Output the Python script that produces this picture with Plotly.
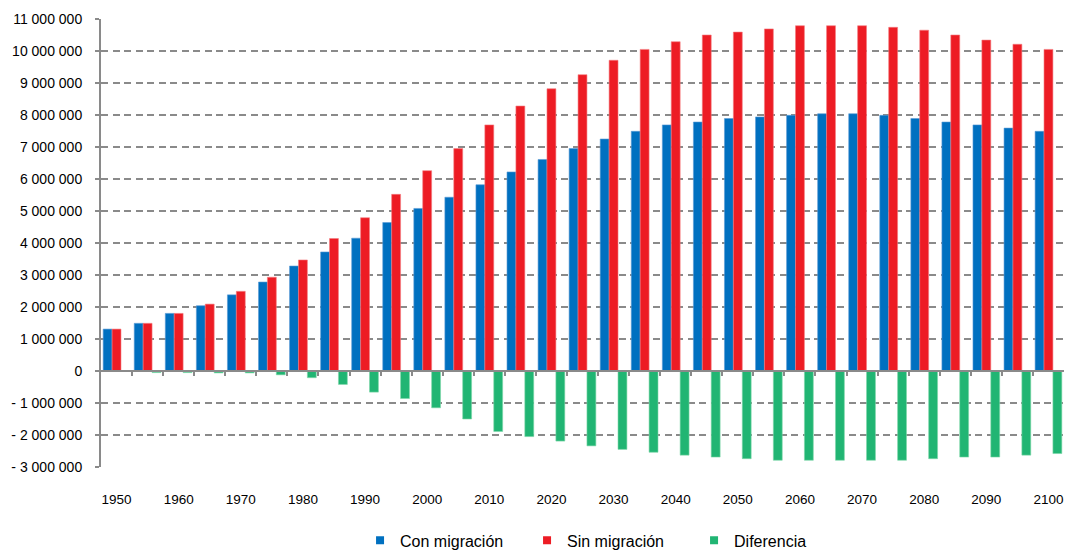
import plotly.graph_objects as go

# Years (every five years) and population series
years = [1950, 1955, 1960, 1965, 1970, 1975, 1980, 1985, 1990, 1995,
         2000, 2005, 2010, 2015, 2020, 2025, 2030, 2035, 2040, 2045,
         2050, 2055, 2060, 2065, 2070, 2075, 2080, 2085, 2090, 2095, 2100]

con_migracion = [1310000, 1490000, 1800000, 2040000, 2380000, 2780000, 3280000, 3720000,
                 4150000, 4640000, 5080000, 5430000, 5820000, 6220000, 6610000, 6950000,
                 7250000, 7490000, 7690000, 7780000, 7890000, 7940000, 7990000, 8040000,
                 8040000, 7990000, 7890000, 7780000, 7690000, 7590000, 7490000]

sin_migracion = [1310000, 1490000, 1800000, 2090000, 2490000, 2930000, 3470000, 4140000,
                 4790000, 5520000, 6260000, 6950000, 7690000, 8280000, 8820000, 9260000,
                 9710000, 10050000, 10290000, 10500000, 10590000, 10690000, 10790000, 10790000,
                 10790000, 10740000, 10650000, 10500000, 10340000, 10210000, 10050000]

diferencia = [-10000, -50000, -50000, -60000, -60000, -120000, -210000, -420000,
              -660000, -860000, -1150000, -1500000, -1890000, -2050000, -2190000, -2340000,
              -2450000, -2540000, -2630000, -2690000, -2740000, -2790000, -2790000, -2790000,
              -2790000, -2790000, -2740000, -2690000, -2690000, -2630000, -2580000]

series_names = ["Con migración", "Sin migración", "Diferencia"]

# y-axis ticks with space as thousands separator
y_ticks = list(range(-3000000, 11000001, 1000000))


def fmt(v):
    s = f"{abs(v):,}".replace(",", " ")
    return ("- " + s) if v < 0 else s


y_ticktext = [fmt(v) for v in y_ticks]

# category boundaries for the small tick marks along the zero line
boundaries = [y + 2.5 for y in years[:-1]]

fill_colors = ["#0070C0", "#ED1C24", "#21B573"]
edge_colors = ["#5B9BD5", "#F47C80", "#7FD6A9"]

fig = go.Figure()
for name, vals, fc, ec in zip(series_names, [con_migracion, sin_migracion, diferencia],
                              fill_colors, edge_colors):
    fig.add_trace(go.Bar(
        x=years, y=vals, name=name, legendgroup=name, showlegend=False,
        marker=dict(color=fc, line=dict(color=ec, width=0.6)),
    ))

# small square legend keys for each series
for name, fc in zip(series_names, fill_colors):
    fig.add_trace(go.Scatter(
        x=[None], y=[None], mode="markers", name=name, legendgroup=name,
        marker=dict(symbol="square", size=8, color=fc), hoverinfo="skip",
    ))

# empty trace so the overlay axis carrying the zero-line ticks is drawn
fig.add_trace(go.Scatter(x=[], y=[], xaxis="x2", yaxis="y", showlegend=False,
                         hoverinfo="skip"))

y_min, y_max = -3000000, 11000000
zero_frac = (0 - y_min) / (y_max - y_min)

grid_color = "#8A8A8A"
font_family = "Liberation Sans, Arial, sans-serif"

fig.update_layout(
    width=1065, height=550,
    margin=dict(l=101, r=1, t=19, b=83, autoexpand=False),
    paper_bgcolor="white", plot_bgcolor="white",
    font=dict(family=font_family, color="#000000"),
    barmode="group", bargap=0.14, bargroupgap=0,
    showlegend=True,
    legend=dict(
        orientation="h", x=0.269, xanchor="left", y=-0.126, yanchor="top",
        font=dict(size=16, family=font_family),
        entrywidth=122, entrywidthmode="pixels",
        itemwidth=30, tracegroupgap=0,
    ),
    xaxis=dict(
        range=[1947.5, 2102.5],
        tickmode="array", tickvals=years[::2], ticktext=[str(y) for y in years[::2]],
        ticks="", showgrid=False, showline=False, zeroline=False,
        tickfont=dict(size=13.5), ticklabelstandoff=22,
    ),
    xaxis2=dict(
        overlaying="x", matches="x", anchor="free", position=zero_frac,
        side="bottom",
        tickmode="array", tickvals=boundaries, showticklabels=False,
        ticks="outside", ticklen=4, tickwidth=1.5, tickcolor=grid_color,
        showgrid=False, showline=True, linecolor=grid_color, linewidth=2,
        zeroline=False,
    ),
    yaxis=dict(
        range=[y_min, y_max],
        tickmode="array", tickvals=y_ticks, ticktext=y_ticktext,
        ticks="outside", ticklen=4, tickwidth=1.5, tickcolor=grid_color,
        showline=True, linecolor=grid_color, linewidth=2,
        showgrid=True, gridcolor=grid_color, gridwidth=2, griddash="7px,4.5px",
        zeroline=False,
        tickfont=dict(size=14), ticklabelstandoff=10,
    ),
)

fig.write_html("out.html")
